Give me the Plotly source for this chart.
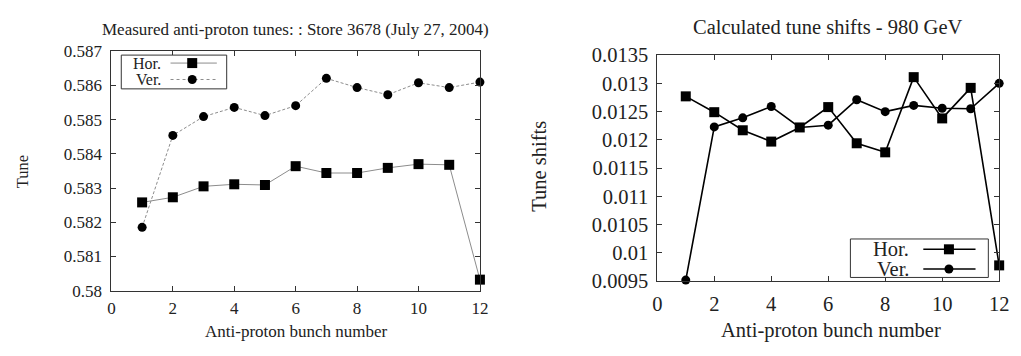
import plotly.graph_objects as go

# ---- data -------------------------------------------------------------
bunch = [1, 2, 3, 4, 5, 6, 7, 8, 9, 10, 11, 12]

# measured anti-proton tunes, store 3678
meas_hor = [0.58258, 0.58273, 0.58305, 0.58311, 0.58309, 0.58364,
            0.58344, 0.58344, 0.58359, 0.58370, 0.58368, 0.58032]
meas_ver = [0.58185, 0.58454, 0.58509, 0.58536, 0.58512, 0.58541,
            0.58621, 0.58594, 0.58573, 0.58608, 0.58594, 0.58610]

# calculated tune shifts at 980 GeV
shift_hor = [0.01277, 0.01249, 0.01217, 0.01197, 0.01222, 0.01258,
             0.01194, 0.01178, 0.01311, 0.01238, 0.01292, 0.00978]
shift_ver = [0.00952, 0.01223, 0.01239, 0.01259, 0.01222, 0.01226,
             0.01271, 0.01250, 0.01261, 0.01256, 0.01255, 0.01300]

x_ticks = [0, 2, 4, 6, 8, 10, 12]
tune_ticks = [0.580, 0.581, 0.582, 0.583, 0.584, 0.585, 0.586, 0.587]
tune_labels = ["0.58", "0.581", "0.582", "0.583", "0.584", "0.585", "0.586", "0.587"]
shift_ticks = [0.0095, 0.0100, 0.0105, 0.0110, 0.0115, 0.0120, 0.0125, 0.0130, 0.0135]
shift_labels = ["0.0095", "0.01", "0.0105", "0.011", "0.0115", "0.012", "0.0125", "0.013", "0.0135"]

# ---- layout helpers -----------------------------------------------------
W, H = 1021, 356
FONT = "Liberation Serif"
INK = "#222222"
L_SIZE = 17     # text size in the left panel
R_SIZE = 20.5   # text size in the right panel


def px(x):
    return x / W


def py(y):
    return 1 - y / H


def serif(size):
    return dict(family=FONT, size=size, color=INK)


fig = go.Figure()

# left panel: measured tunes
fig.add_trace(go.Scatter(
    x=bunch, y=meas_hor, xaxis="x", yaxis="y", mode="lines+markers",
    line=dict(color="#8c8c8c", width=1),
    marker=dict(symbol="square", size=10, color="black"),
    cliponaxis=False, showlegend=False))
fig.add_trace(go.Scatter(
    x=bunch, y=meas_ver, xaxis="x", yaxis="y", mode="lines+markers",
    line=dict(color="#8c8c8c", width=1, dash="3px,2px"),
    marker=dict(symbol="circle", size=9, color="black"),
    cliponaxis=False, showlegend=False))

# right panel: calculated shifts
fig.add_trace(go.Scatter(
    x=bunch, y=shift_hor, xaxis="x2", yaxis="y2", mode="lines+markers",
    line=dict(color="black", width=1.6),
    marker=dict(symbol="square", size=10, color="black"),
    cliponaxis=False, showlegend=False))
fig.add_trace(go.Scatter(
    x=bunch, y=shift_ver, xaxis="x2", yaxis="y2", mode="lines+markers",
    line=dict(color="black", width=1.6),
    marker=dict(symbol="circle", size=9, color="black"),
    cliponaxis=False, showlegend=False))

axis_common = dict(
    showgrid=False, zeroline=False, showline=True, linecolor="#333333",
    linewidth=1, mirror="ticks", ticks="inside", ticklen=5,
    tickcolor="#333333", fixedrange=True,
)

fig.update_layout(
    width=W, height=H,
    margin=dict(l=0, r=0, t=0, b=0),
    paper_bgcolor="white", plot_bgcolor="white",
    font=serif(L_SIZE),
    xaxis=dict(domain=[px(108), px(482)], range=[0, 12], anchor="y",
               tickvals=x_ticks, tickfont=serif(L_SIZE),
               ticklabelstandoff=2, **axis_common),
    yaxis=dict(domain=[py(298), py(43)], range=[0.580, 0.587], anchor="x",
               tickvals=tune_ticks, ticktext=tune_labels,
               tickfont=serif(L_SIZE), ticklabelstandoff=5, **axis_common),
    xaxis2=dict(domain=[px(662), px(1009)], range=[0, 12], anchor="y2",
                tickvals=x_ticks, tickfont=serif(R_SIZE),
                ticklabelstandoff=4, **axis_common),
    yaxis2=dict(domain=[py(288), py(47)], range=[0.0095, 0.0135], anchor="x2",
                tickvals=shift_ticks, ticktext=shift_labels,
                tickfont=serif(R_SIZE), ticklabelstandoff=4, **axis_common),
)

# titles and axis labels
annotations = [
    dict(text="Measured anti-proton tunes: : Store 3678 (July 27, 2004)",
         x=px(295), y=py(20), font=serif(17)),
    dict(text="Anti-proton bunch number", x=px(296), y=py(342), font=serif(L_SIZE)),
    dict(text="Tune", x=px(18), y=py(171), textangle=-90, font=serif(16.5)),
    dict(text="Calculated tune shifts - 980 GeV", x=px(835), y=py(17), font=serif(R_SIZE)),
    dict(text="Anti-proton bunch number", x=px(838), y=py(341), font=serif(R_SIZE)),
    dict(text="Tune shifts", x=px(542), y=py(166), textangle=-90, font=serif(R_SIZE)),
]
for a in annotations:
    a.update(xref="paper", yref="paper", showarrow=False,
             xanchor="center", yanchor="middle")
fig.update_layout(annotations=annotations)

# key boxes drawn beside each panel's curves
shapes = []


def add_key(box, rows, text_right, line_x, mark_x, size, line_style):
    x0, y0, x1, y1 = box
    shapes.append(dict(type="rect", xref="paper", yref="paper",
                       x0=px(x0), x1=px(x1), y0=py(y1), y1=py(y0),
                       line=dict(color="#333333", width=1), fillcolor="white"))
    for (label, ypix, symbol, dash) in rows:
        fig.add_annotation(text=label, xref="paper", yref="paper",
                           x=px(text_right), y=py(ypix), xanchor="right",
                           yanchor="middle", showarrow=False,
                           font=serif(size))
        shapes.append(dict(type="line", xref="paper", yref="paper",
                           x0=px(line_x[0]), x1=px(line_x[1]),
                           y0=py(ypix), y1=py(ypix),
                           line=dict(color=line_style[0], width=line_style[1], dash=dash)))
        half = 5 if symbol == "rect" else 4.5
        shapes.append(dict(type=symbol, xref="paper", yref="paper",
                           xsizemode="pixel", ysizemode="pixel",
                           xanchor=px(mark_x), yanchor=py(ypix),
                           x0=-half, x1=half, y0=-half, y1=half,
                           fillcolor="black", line=dict(color="black", width=0)))


add_key((118, 47, 225, 83),
        [("Hor.", 55.5, "rect", "solid"), ("Ver.", 73, "circle", "dot")],
        text_right=160, line_x=(168, 215), mark_x=190, size=16,
        line_style=("#8c8c8c", 1))
add_key((858, 243, 998, 284),
        [("Hor.", 254, "rect", "solid"), ("Ver.", 275, "circle", "solid")],
        text_right=920, line_x=(932, 985), mark_x=958, size=R_SIZE,
        line_style=("black", 1.6))

fig.update_layout(shapes=shapes)

fig.write_html("out.html")
